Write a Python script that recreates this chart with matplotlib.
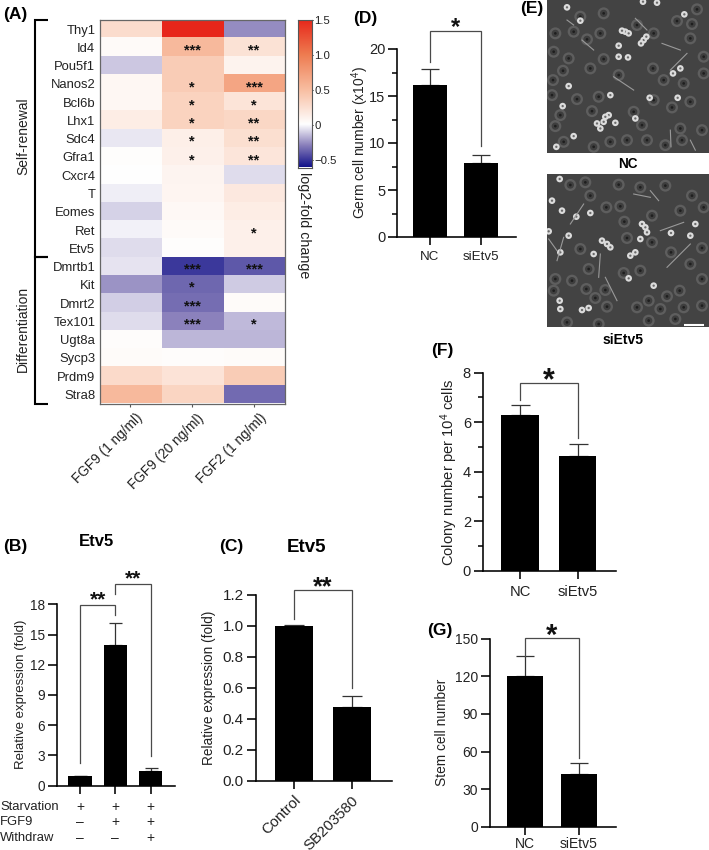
import numpy as np
import matplotlib
matplotlib.use("Agg")
import matplotlib.pyplot as plt
from matplotlib.colors import LinearSegmentedColormap
from matplotlib.patches import Circle
from matplotlib.ticker import MultipleLocator
from matplotlib.transforms import ScaledTranslation

plt.rcParams['font.family'] = ['Liberation Sans', 'DejaVu Sans']
plt.rcParams['axes.unicode_minus'] = True
plt.rcParams['mathtext.fontset'] = 'custom'
plt.rcParams['mathtext.rm'] = 'Liberation Sans'
plt.rcParams['mathtext.default'] = 'rm'

# ---------- data ----------
genes = ['Thy1', 'Id4', 'Pou5f1', 'Nanos2', 'Bcl6b', 'Lhx1', 'Sdc4', 'Gfra1', 'Cxcr4', 'T', 'Eomes', 'Ret', 'Etv5',
         'Dmrtb1', 'Kit', 'Dmrt2', 'Tex101', 'Ugt8a', 'Sycp3', 'Prdm9', 'Stra8']
conditions = ['FGF9 (1 ng/ml)', 'FGF9 (20 ng/ml)', 'FGF2 (1 ng/ml)']
fgf9_1 = [.26, .04, -.13, .06, .06, .14, -.05, .01, .005, -.04, -.10, -.03, -.08,
          -.06, -.25, -.11, -.08, .02, .03, .28, .52]
fgf9_20 = [1.5, .52, .38, .38, .33, .33, .12, .11, .08, .07, .05, .04, .01,
           -.50, -.37, -.35, -.29, -.17, .02, .21, .32]
fgf2_1 = [-.27, .22, .09, .68, .20, .30, .24, .19, -.08, .17, .14, .11, .11,
          -.41, -.12, .03, -.16, -.17, .03, .38, -.36]
stars_1 = {}
stars_20 = {'Id4': '***', 'Nanos2': '*', 'Bcl6b': '*', 'Lhx1': '*', 'Sdc4': '*', 'Gfra1': '*',
            'Dmrtb1': '***', 'Kit': '*', 'Dmrt2': '***', 'Tex101': '***'}
stars_2 = {'Id4': '**', 'Nanos2': '***', 'Bcl6b': '*', 'Lhx1': '**', 'Sdc4': '**', 'Gfra1': '**', 'Ret': '*',
           'Dmrtb1': '***', 'Tex101': '*'}

b_vals = [1, 14, 1.45]
b_tops = [1, 16.1, 1.75]
c_labels = ['Control', 'SB203580']
c_vals = [1.0, 0.475]
c_tops = [1.003, 0.55]
si_labels = ['NC', 'siEtv5']
d_vals = [16.2, 7.9]
d_tops = [17.9, 8.7]
f_vals = [6.3, 4.65]
f_tops = [6.7, 5.13]
g_vals = [120, 42]
g_tops = [136.5, 51]
rows_b = ['Starvation', 'FGF9', 'Withdraw']
signs_b = [['+', '+', '+'], ['\u2013', '+', '+'], ['\u2013', '\u2013', '+']]

# photo content (coordinates in 1/3 pixel)
nc_bright = [(235, 95), (225, 92), (245, 100), (290, 120), (298, 110), (282, 130), (215, 137), (215, 170), (243, 172),
             (378, 220), (400, 205), (47, 318), (170, 365), (160, 385), (185, 345), (150, 370), (175, 350), (265, 355),
             (205, 368), (308, 293), (80, 408), (392, 293), (65, 258), (412, 43), (330, 8), (288, 5), (100, 62),
             (60, 22), (28, 440), (190, 285)]
nc_cells = [(450, 28), (390, 63), (435, 72), (120, 118), (170, 177), (430, 115), (20, 155), (65, 175), (48, 212),
            (18, 240), (130, 205), (25, 100), (80, 95), (160, 100), (320, 100), (350, 240), (318, 205), (410, 250),
            (15, 285), (90, 297), (155, 290), (215, 225), (375, 322), (135, 333), (40, 345), (430, 305), (260, 335),
            (400, 385), (405, 420), (285, 375), (25, 378), (190, 425), (140, 440), (470, 170), (470, 220), (170, 40),
            (100, 50), (270, 75), (355, 435), (465, 390), (300, 420), (240, 420), (50, 425), (320, 300)]
nc_streaks = [((370, 210), (420, 160)), ((140, 150), (105, 120)), ((200, 230), (260, 270)), ((370, 390), (372, 440)),
              ((345, 130), (400, 150)), ((430, 420), (445, 450)), ((60, 60), (80, 75)), ((265, 55), (300, 90))]
si_bright = [(295, 160), (285, 150), (300, 175), (180, 210), (165, 200), (190, 220), (88, 128), (45, 110), (265, 235),
             (250, 245), (320, 335), (140, 240), (65, 185), (130, 117), (445, 150), (430, 185), (372, 177), (245, 313),
             (5, 172), (38, 380), (40, 405), (105, 408), (125, 402), (15, 80), (38, 15), (280, 195), (40, 235)]
si_cells = [(70, 33), (115, 25), (215, 32), (130, 65), (280, 40), (355, 35), (435, 65), (470, 100), (400, 110),
            (220, 97), (178, 100), (232, 143), (315, 125), (240, 192), (315, 205), (372, 235), (430, 270), (465, 222),
            (280, 290), (230, 297), (125, 285), (25, 315), (20, 350), (75, 320), (118, 345), (175, 348), (145, 372),
            (180, 398), (305, 380), (360, 367), (398, 350), (465, 315), (410, 400), (340, 405), (270, 400), (305, 440),
            (385, 435), (155, 450), (465, 395), (60, 445), (100, 225)]
si_streaks = [((30, 260), (50, 190)), ((160, 240), (155, 310)), ((175, 310), (210, 380)), ((310, 50), (335, 80)),
              ((340, 170), (410, 145)), ((360, 280), (430, 210)), ((5, 195), (30, 230)), ((110, 90), (70, 150)),
              ((260, 60), (310, 70))]

# ---------- layout ----------
W, H = 709, 850
fig = plt.figure(figsize=(W / 100, H / 100), dpi=100, facecolor='white')


def axpx(l, t, r, b):
    return fig.add_axes([l / W, 1 - b / H, (r - l) / W, (b - t) / H])


def ftext(x, y, s, **kw):
    kw.setdefault('ha', 'left')
    kw.setdefault('va', 'center')
    return fig.text(x / W, 1 - y / H, s, **kw)


PT = 0.72
for s, x, y in [('(A)', 3, 14), ('(B)', 3, 547), ('(C)', 219, 547), ('(D)', 353, 18), ('(E)', 520, 9),
                ('(F)', 431, 350), ('(G)', 427, 630)]:
    ftext(x, y, s, fontsize=12.5, fontweight='bold')

# ---------- panel A ----------
cmap = LinearSegmentedColormap.from_list('rb', [
    (0.0, '#12128a'), ((0.31) / 2.11, '#8a80bb'), (0.61 / 2.11, '#ffffff'),
    (1.11 / 2.11, '#f8bda0'), (1.61 / 2.11, '#ee7b50'), (1.0, '#e7261a')])
vmin, vmax = -0.61, 1.5
ax = axpx(99.5, 20, 285, 403.5)
M = np.array([fgf9_1, fgf9_20, fgf2_1]).T
ax.imshow(M, cmap=cmap, vmin=vmin, vmax=vmax, aspect='auto', interpolation='nearest')
ax.set_yticks(range(len(genes)), genes, fontsize=9.4, color='#222222')
ax.set_xticks(range(3), conditions, rotation=45, ha='right', rotation_mode='anchor', fontsize=9.8, color='#222222')
ax.tick_params(axis='y', length=0, pad=3)
ax.tick_params(axis='x', length=2.5, width=0.8, pad=3, color='#555555')
for lbl in ax.get_xticklabels():
    lbl.set_transform(lbl.get_transform() + ScaledTranslation(5 / 100, 0, fig.dpi_scale_trans))
for sp in ax.spines.values():
    sp.set_color('#666666')
    sp.set_linewidth(0.9)
for col, d in enumerate([stars_1, stars_20, stars_2]):
    for g, s in d.items():
        ax.annotate(s, (col, genes.index(g)), xytext=(0, -2.2), textcoords='offset points', ha='center', va='center',
                    fontsize=10.5, fontweight='bold', color='#111111')
# group brackets
tr = ax.get_yaxis_transform()
x_v, x_e = (34.5 - 99.5) / 185.5, (47.7 - 99.5) / 185.5
for seg in [(-0.5, 12.5), (12.5, 20.5)]:
    ax.plot([x_e, x_v, x_v, x_e], [seg[0], seg[0], seg[1], seg[1]], transform=tr, color='black', lw=1.5, clip_on=False,
            solid_joinstyle='miter', solid_capstyle='butt')
ftext(23, 136, 'Self-renewal', rotation=90, ha='center', fontsize=10, color='#222222')
ftext(23, 329, 'Differentiation', rotation=90, ha='center', fontsize=10, color='#222222')

cax = axpx(298, 19.5, 312, 167.5)
grad = np.linspace(vmax, vmin, 256)[:, None]
cax.imshow(grad, cmap=cmap, vmin=vmin, vmax=vmax, aspect='auto', extent=[0, 1, vmin, vmax])
cax.set_xticks([])
cax.yaxis.tick_right()
cax.set_yticks([-0.5, 0, 0.5, 1.0, 1.5], ['\u22120.5', '0', '0.5', '1.0', '1.5'], fontsize=8.2, color='#222222')
cax.tick_params(axis='y', length=1, width=0.7, pad=0.5, direction='out')
for sp in cax.spines.values():
    sp.set_color('#555555')
    sp.set_linewidth(0.8)
ftext(304, 225, 'log2-fold change', rotation=270, ha='center', fontsize=10.3, color='#222222')


# ---------- bar helper ----------
def bars(box, centers_px, bar_px, vals, tops, ylim, yticks, minor=None, cap=9, tick_fs=10.5, xpad=3):
    l, t, r, b = box
    ax = axpx(l, t, r, b)
    unit = centers_px[1] - centers_px[0]
    ax.set_xlim((l - centers_px[0]) / unit, (r - centers_px[0]) / unit)
    ax.set_ylim(*ylim)
    pos = np.arange(len(vals))
    ax.bar(pos, vals, width=bar_px / unit, color='black', zorder=2)
    lower = np.zeros(len(vals))
    upper = np.array(tops) - np.array(vals)
    ax.errorbar(pos, vals, yerr=[lower, upper], fmt='none', ecolor='#333333', elinewidth=0.9, capsize=cap * PT,
                capthick=0.9, zorder=1, clip_on=False)
    for s in ['top', 'right']:
        ax.spines[s].set_visible(False)
    for s in ['left', 'bottom']:
        ax.spines[s].set_linewidth(1.15)
    ax.set_yticks(yticks)
    ax.tick_params(axis='y', length=6.5, width=1.15, labelsize=tick_fs, pad=2, labelcolor='#222222')
    ax.tick_params(axis='x', length=6, width=1.15, pad=xpad, labelcolor='#222222')
    if minor:
        ax.yaxis.set_minor_locator(MultipleLocator(minor))
        ax.tick_params(axis='y', which='minor', length=3.8, width=1.1)
    ax.set_facecolor('none')
    return ax


def bracket(ax, x0, x1, y0, ytop, y1):
    ax.plot([x0, x0, x1, x1], [y0, ytop, ytop, y1], color='#4a4a4a', lw=0.9, clip_on=False, zorder=3,
            solid_joinstyle='miter')


def star(ax, x, y, s, size):
    ax.annotate(s, (x, y), xytext=(0, -0.2 * size), textcoords='offset points', ha='center', va='center',
                fontsize=size, fontweight='bold', color='#111111', annotation_clip=False)


# ---------- panel B ----------
ax = bars((56.7, 604.3, 175, 785.7), [80, 115.3], 23.5, b_vals, b_tops, (0, 18), [0, 3, 6, 9, 12, 15, 18], cap=6.5,
          tick_fs=9.8)
ax.set_xticks(range(3), [])
bracket(ax, 0, 1, 2.3, 17.93, 16.9)
bracket(ax, 1, 2, 19.0, 20.0, 2.95)
star(ax, 0.5, 18.9, '**', 15)
star(ax, 1.5, 20.9, '**', 15)
ftext(21, 694, 'Relative expression (fold)', rotation=90, ha='center', fontsize=9.5, color='#222222')
ftext(97, 542, 'Etv5', ha='center', fontsize=12, fontweight='bold')
xform = ax.get_xaxis_transform()
for name, row, ypx in zip(rows_b, signs_b, [807, 822, 838]):
    ftext(0, ypx, name, fontsize=9.4, color='#222222')
    for i, s in enumerate(row):
        ax.text(i, (785.7 - ypx) / 181.4, s, transform=xform, ha='center', va='center', fontsize=10, color='#222222',
                clip_on=False)

# ---------- panel C ----------
ax = bars((255.7, 595, 391.7, 780.7), [294, 351.7], 38, c_vals, c_tops, (0, 1.2), [0, .2, .4, .6, .8, 1.0, 1.2], cap=10,
          tick_fs=11)
ax.set_yticklabels(['0.0', '0.2', '0.4', '0.6', '0.8', '1.0', '1.2'])
ax.set_xticks(range(2), c_labels, rotation=45, ha='right', rotation_mode='anchor', fontsize=10.8)
bracket(ax, 0, 1, 1.043, 1.23, 0.597)
star(ax, 0.5, 1.28, '**', 18)
ftext(209, 688, 'Relative expression (fold)', rotation=90, ha='center', fontsize=9.8, color='#222222')
ftext(307, 547, 'Etv5', ha='center', fontsize=13.5, fontweight='bold')

# ---------- panel D ----------
ax = bars((397, 49, 516, 237), [430, 481], 34, d_vals, d_tops, (0, 20), [0, 5, 10, 15, 20], minor=2.5, xpad=4)
ax.set_xticks(range(2), si_labels, fontsize=9.6)
bracket(ax, 0, 1, 18.6, 21.9, 9.7)
star(ax, 0.5, 22.8, '*', 17)
ftext(360, 143, 'Germ cell number (x10$^{4}$)', rotation=90, ha='center', fontsize=10, color='#222222')

# ---------- panel F ----------
ax = bars((482.7, 372.7, 616, 571), [520, 577.6], 37.5, f_vals, f_tops, (0, 8), [0, 2, 4, 6, 8], minor=1, cap=9.5,
          xpad=4)
ax.set_xticks(range(2), si_labels, fontsize=10.6)
bracket(ax, 0, 1, 6.9, 7.6, 5.35)
star(ax, 0.5, 7.9, '*', 22)
ftext(449, 472, 'Colony number per 10$^{4}$ cells', rotation=90, ha='center', fontsize=10.6, color='#222222')

# ---------- panel G ----------
ax = bars((489.7, 638.7, 616, 826.7), [525, 579], 35.5, g_vals, g_tops, (0, 150), [0, 30, 60, 90, 120, 150], cap=9,
          tick_fs=10, xpad=1.5)
ax.set_xticks(range(2), si_labels, fontsize=10)
bracket(ax, 0, 1, 136.5, 150.5, 54.5)
star(ax, 0.5, 157, '*', 21)
ftext(442, 732, 'Stem cell number', rotation=90, ha='center', fontsize=9.9, color='#222222')


# ---------- panel E ----------
def photo(box, cells, bright, streaks, extent):
    ax = axpx(*box)
    ax.set_xlim(0, extent[0])
    ax.set_ylim(extent[1], 0)
    ax.set_facecolor('#434343')
    ax.set_xticks([])
    ax.set_yticks([])
    for sp in ax.spines.values():
        sp.set_visible(False)
    for x, y in cells:
        ax.add_patch(Circle((x, y), 18, color='#5e5e5e', lw=0))
        ax.add_patch(Circle((x, y), 11, color='#3e3e3e', lw=0))
        ax.add_patch(Circle((x, y), 4, color='#1e1e1e', lw=0))
    for (x0, y0), (x1, y1) in streaks:
        ax.plot([x0, x1], [y0, y1], color='#9a9a9a', lw=0.8)
    for x, y in bright:
        ax.add_patch(Circle((x, y), 10, color='#dcdcdc', lw=0))
        ax.add_patch(Circle((x, y), 3.5, color='#6a6a6a', lw=0))
    return ax


photo((547, 0, 709, 152.5), nc_cells, nc_bright, nc_streaks, (486, 457))
ax = photo((547, 174, 709, 327), si_cells, si_bright, si_streaks, (486, 459))
ax.plot([410, 470], [453, 453], color='white', lw=1.5, solid_capstyle='butt')
ftext(628, 164, 'NC', ha='center', fontsize=9.8, fontweight='bold')
ftext(623, 340, 'siEtv5', ha='center', fontsize=10, fontweight='bold')

fig.savefig('out.png', dpi=100)
